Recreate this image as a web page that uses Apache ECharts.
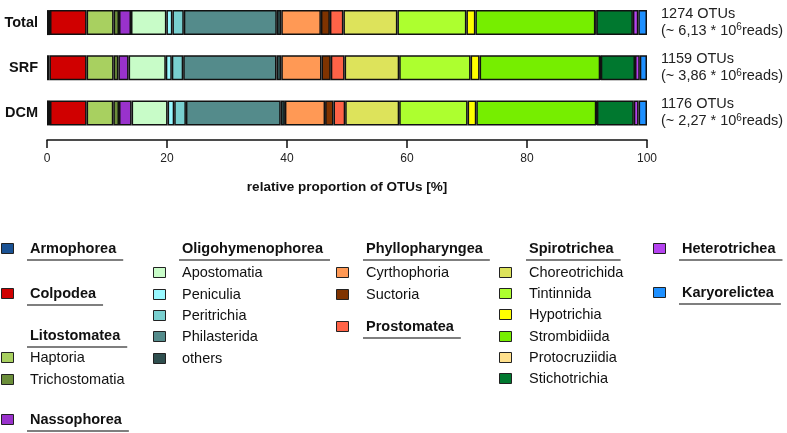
<!DOCTYPE html>
<html>
<head>
<meta charset="utf-8">
<script src="https://cdn.jsdelivr.net/npm/echarts@6/dist/echarts.min.js"></script>
<style>
  html, body { margin: 0; padding: 0; background: #fff; }
  #main { width: 787px; height: 433px; }
</style>
</head>
<body>
<div id="main"></div>
<script>
// samples
const categories = ['Total', 'SRF', 'DCM'];
const otuCounts = ['1274', '1159', '1176'];
const readCounts = ['6,13', '3,86', '2,27'];
const xTicks = [0, 20, 40, 60, 80, 100];

// taxa in stacking order
const taxa = ['Armophorea', 'Colpodea', 'Haptoria', 'Trichostomatia', 'Nassophorea',
  'Apostomatia', 'Peniculia', 'Peritrichia', 'Philasterida', 'others',
  'Cyrthophoria', 'Suctoria', 'Prostomatea',
  'Choreotrichida', 'Tintinnida', 'Hypotrichia', 'Strombidiida', 'Protocruziidia', 'Stichotrichia',
  'Heterotrichea', 'Karyorelictea'];

// relative proportion of OTUs [%], same order as taxa
const totalShare = [0.5, 6.1, 4.5, 0.9, 2.0, 5.9, 1.0, 1.9, 15.5, 0.75, 6.6, 1.5, 2.25,
  9.0, 11.5, 1.5, 20.0, 0.15, 6.1, 0.9, 1.45];
const srfShare = [0.4, 6.2, 4.5, 0.8, 1.7, 6.2, 1.0, 1.9, 15.55, 0.8, 6.7, 1.55, 2.3,
  9.1, 11.9, 1.5, 20.1, 0.1, 5.7, 0.8, 1.2];
const dcmShare = [0.5, 6.1, 4.45, 0.95, 2.1, 6.0, 1.1, 1.95, 15.8, 0.7, 6.7, 1.4, 1.95,
  9.0, 11.4, 1.45, 20.0, 0.1, 6.15, 0.8, 1.4];

const taxonColors = {
  Armophorea: '#1a5294', Colpodea: '#d00000', Haptoria: '#a8d060', Trichostomatia: '#6b8e3a',
  Nassophorea: '#9932cc', Apostomatia: '#c8fcc8', Peniculia: '#98f8ff', Peritrichia: '#79cfcf',
  Philasterida: '#548b8b', others: '#2f4f4f', Cyrthophoria: '#ff9955', Suctoria: '#7f3300',
  Prostomatea: '#ff6347', Choreotrichida: '#dde35b', Tintinnida: '#adff2f', Hypotrichia: '#ffff00',
  Strombidiida: '#76ee00', Protocruziidia: '#ffe08c', Stichotrichia: '#00782f',
  Heterotrichea: '#b543f0', Karyorelictea: '#1e90ff'
};

// legend groups: header (class) with sub-orders, or single class
const legendColumns = [
  [{ single: 'Armophorea' }, { single: 'Colpodea' },
   { header: 'Litostomatea', items: ['Haptoria', 'Trichostomatia'] }, { single: 'Nassophorea' }],
  [{ header: 'Oligohymenophorea', items: ['Apostomatia', 'Peniculia', 'Peritrichia', 'Philasterida', 'others'] }],
  [{ header: 'Phyllopharyngea', items: ['Cyrthophoria', 'Suctoria'] }, { single: 'Prostomatea' }],
  [{ header: 'Spirotrichea', items: ['Choreotrichida', 'Tintinnida', 'Hypotrichia', 'Strombidiida', 'Protocruziidia', 'Stichotrichia'] }],
  [{ single: 'Heterotrichea' }, { single: 'Karyorelictea' }]
];

const FONT = '"Liberation Sans", Arial, sans-serif';
const LEG_SIZE = '14.5px ';

// legend layout (pixels)
const colSwatchX = [1, 153, 336, 499, 653];
const colTextX = [30, 182, 366, 529, 682];
const rowY = {
  Armophorea: 249, Colpodea: 294, Litostomatea: 336, Haptoria: 358, Trichostomatia: 380, Nassophorea: 420,
  Oligohymenophorea: 249, Apostomatia: 273, Peniculia: 295, Peritrichia: 316, Philasterida: 337, others: 359,
  Phyllopharyngea: 249, Cyrthophoria: 273, Suctoria: 295, Prostomatea: 327,
  Spirotrichea: 249, Choreotrichida: 273, Tintinnida: 294, Hypotrichia: 315, Strombidiida: 337, Protocruziidia: 358, Stichotrichia: 379,
  Heterotrichea: 249, Karyorelictea: 293
};

const measureCtx = document.createElement('canvas').getContext('2d');
function textWidth(txt, font) {
  measureCtx.font = font;
  return measureCtx.measureText(txt).width;
}

const graphics = [];
function swatch(x, y, name) {
  graphics.push({
    type: 'rect', shape: { x: x + 0.5, y: y - 5.5, width: 12, height: 10 },
    style: { fill: taxonColors[name], stroke: '#222', lineWidth: 1 }
  });
}
function label(x, y, txt, bold) {
  graphics.push({
    type: 'text', x: x, y: y,
    style: { text: txt, font: (bold ? 'bold ' : '') + LEG_SIZE + FONT, fill: '#111', verticalAlign: 'middle' }
  });
}
function underline(x, y, txt) {
  const w = textWidth(txt, 'bold ' + LEG_SIZE + FONT);
  graphics.push({
    type: 'line', shape: { x1: x - 3, y1: y + 11, x2: x + w + 7, y2: y + 11 },
    style: { stroke: '#555', lineWidth: 1.5 }
  });
}
legendColumns.forEach((col, ci) => {
  col.forEach(g => {
    if (g.single) {
      const y = rowY[g.single];
      swatch(colSwatchX[ci], y, g.single);
      label(colTextX[ci], y, g.single, true);
      underline(colTextX[ci], y, g.single);
    } else {
      const y = rowY[g.header];
      label(colTextX[ci], y, g.header, true);
      underline(colTextX[ci], y, g.header);
      g.items.forEach(it => {
        swatch(colSwatchX[ci], rowY[it], it);
        label(colTextX[ci], rowY[it], it, false);
      });
    }
  });
});

const series = taxa.map((name, i) => ({
  name: name,
  type: 'bar',
  stack: 'otus',
  barWidth: 25,
  data: [totalShare[i], srfShare[i], dcmShare[i]],
  itemStyle: { color: taxonColors[name], borderColor: '#111', borderWidth: 1.5 },
  emphasis: { disabled: true }
}));

const chart = echarts.init(document.getElementById('main'));
chart.setOption({
  animation: false,
  textStyle: { fontFamily: FONT },
  grid: { left: 47, width: 600, top: -7, height: 142.5 },
  xAxis: {
    type: 'value', min: 0, max: 100, interval: 20,
    offset: 4.5,
    axisLine: { show: true, lineStyle: { color: '#111', width: 1.5 } },
    axisTick: { show: true, length: 8, lineStyle: { color: '#111', width: 1.5 } },
    axisLabel: { color: '#222', fontSize: 12, margin: 13,
      formatter: v => xTicks.includes(v) ? String(v) : '' },
    splitLine: { show: false },
    name: 'relative proportion of OTUs [%]',
    nameLocation: 'middle', nameGap: 40,
    nameTextStyle: { fontWeight: 'bold', fontSize: 13.5, color: '#111' }
  },
  yAxis: [{
    type: 'category', data: categories, inverse: true,
    axisLine: { show: false }, axisTick: { show: false },
    axisLabel: { fontWeight: 'bold', fontSize: 14.5, color: '#111', margin: 9 }
  }, {
    type: 'category', data: categories, inverse: true, position: 'right',
    axisLine: { show: false }, axisTick: { show: false },
    axisLabel: {
      margin: 14, align: 'left',
      formatter: (v, i) => '{t|' + otuCounts[i] + ' OTUs}\n{t|(~ ' + readCounts[i] + ' * 10}{s|6}{t|reads)}',
      rich: {
        t: { fontSize: 14.5, lineHeight: 17, color: '#222' },
        s: { fontSize: 10, lineHeight: 17, color: '#222', padding: [0, 0, 7, 0] }
      }
    }
  }],
  series: series,
  graphic: graphics
});
</script>
</body>
</html>
